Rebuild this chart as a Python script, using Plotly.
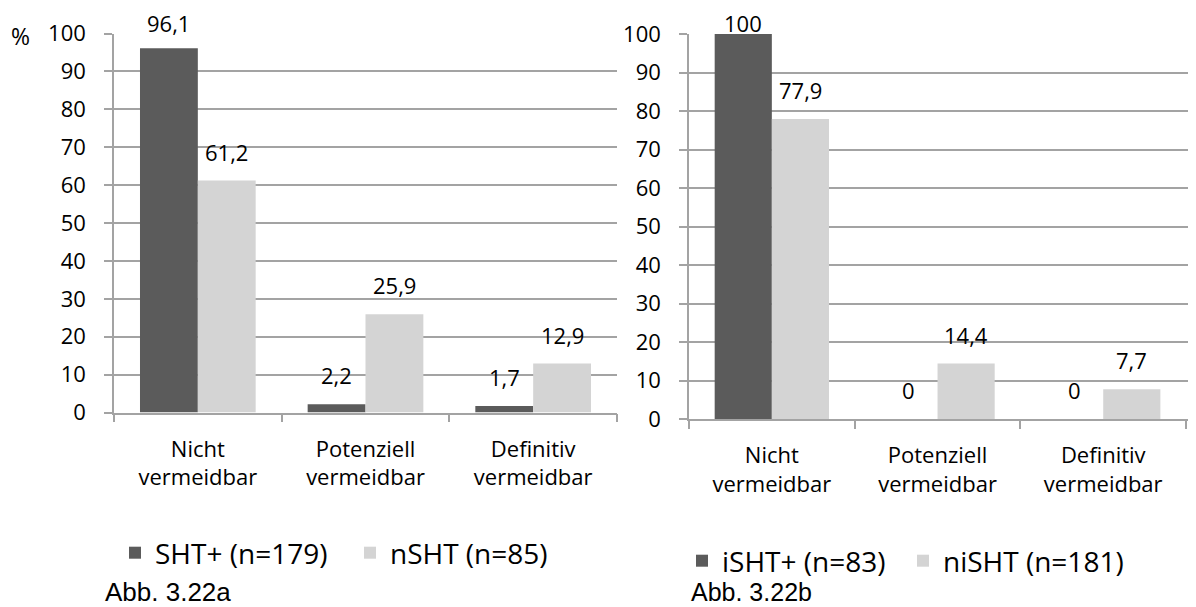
import plotly.graph_objects as go

categories = ["Nicht<br>vermeidbar", "Potenziell<br>vermeidbar", "Definitiv<br>vermeidbar"]

left_names = ["SHT+ (n=179)", "nSHT (n=85)"]
left_a = [96.1, 2.2, 1.7]
left_b = [61.2, 25.9, 12.9]

right_names = ["iSHT+ (n=83)", "niSHT (n=181)"]
right_a = [100, 0, 0]
right_b = [77.9, 14.4, 7.7]

y_ticks = [0, 10, 20, 30, 40, 50, 60, 70, 80, 90, 100]

DARK = "#5b5b5b"
LIGHT = "#d4d4d4"
GRID = "#a3a3a3"
FONT = "Open Sans"
OFF = 8  # page body margin offset
W, H = 1196 - OFF, 607 - OFF

# pixel layout (reference coordinates)
L_ZERO, L_TOP = 412.5, 33.5
R_ZERO, R_TOP = 419.0, 34.0


def px(X):
    return (X - OFF) / W


def py(Y):
    return 1 - (Y - OFF) / H


def fmt(v):
    return f"{v:g}".replace(".", ",")


def label_shift(v, zero, top):
    # keep labels inside the chart area like the original (labels near the top are pushed down)
    bar_top = zero - v * (zero - top) / 100.0
    text_bottom = bar_top - 19
    return 13 - max(0.0, 33 - text_bottom)


fig = go.Figure()

fig.add_trace(go.Bar(x=categories, y=left_a, name=left_names[0], marker=dict(color=DARK, line=dict(width=0)),
                     xaxis="x", yaxis="y", legend="legend"))
fig.add_trace(go.Bar(x=categories, y=left_b, name=left_names[1], marker=dict(color=LIGHT, line=dict(width=0)),
                     xaxis="x", yaxis="y", legend="legend"))
fig.add_trace(go.Bar(x=categories, y=right_a, name=right_names[0], marker=dict(color=DARK, line=dict(width=0)),
                     xaxis="x2", yaxis="y2", legend="legend2"))
fig.add_trace(go.Bar(x=categories, y=right_b, name=right_names[1], marker=dict(color=LIGHT, line=dict(width=0)),
                     xaxis="x2", yaxis="y2", legend="legend2"))

annotations = []
for vals, xr, yr, shift, zero, top in [(left_a, "x", "y", -29, L_ZERO, L_TOP), (left_b, "x", "y", 29, L_ZERO, L_TOP),
                                       (right_a, "x2", "y2", -28.6, R_ZERO, R_TOP),
                                       (right_b, "x2", "y2", 28.6, R_ZERO, R_TOP)]:
    for c, v in zip(categories, vals):
        annotations.append(dict(x=c, y=v, xref=xr, yref=yr, text=fmt(v), showarrow=False, borderpad=0,
                                xshift=shift, yshift=label_shift(v, zero, top), yanchor="bottom",
                                font=dict(family=FONT, size=22, color="#000")))

annotations.append(dict(x=px(9), y=py(36), xref="paper", yref="paper", text="%", showarrow=False,
                        xanchor="left", yanchor="middle", font=dict(family=FONT, size=23, color="#000")))
annotations.append(dict(x=px(103), y=py(592), xref="paper", yref="paper", text="Abb. 3.22a", showarrow=False,
                        xanchor="left", yanchor="middle", font=dict(family="Liberation Sans", size=26, color="#000")))
annotations.append(dict(x=px(689), y=py(592), xref="paper", yref="paper", text="Abb. 3.22b", showarrow=False,
                        xanchor="left", yanchor="middle", font=dict(family="Liberation Sans", size=25, color="#000")))

yaxis_common = dict(range=[0, 100], tickvals=y_ticks, showgrid=True, gridcolor=GRID, gridwidth=1.5,
                    showline=True, linecolor=GRID, linewidth=1.5, ticks="outside", ticklen=8,
                    tickcolor=GRID, tickwidth=1.5, zeroline=False, ticklabelstandoff=14, automargin=False,
                    tickfont=dict(family=FONT, size=22, color="#000"), fixedrange=True)
xaxis_common = dict(showline=True, linecolor=GRID, linewidth=1.5, ticks="outside", ticklen=8,
                    tickcolor=GRID, tickwidth=1.5, tickson="boundaries", showgrid=False, automargin=False,
                    ticklabelstandoff=16, tickfont=dict(family=FONT, size=22, color="#000"), fixedrange=True)

fig.update_layout(
    width=W, height=H,
    margin=dict(l=0, r=0, t=0, b=0, autoexpand=False),
    paper_bgcolor="white", plot_bgcolor="white",
    barmode="group", bargap=0.31, bargroupgap=0,
    xaxis=dict(domain=[px(114), px(617)], range=[-0.5, 2.5], anchor="y", **xaxis_common),
    yaxis=dict(domain=[py(L_ZERO), py(L_TOP)], anchor="x", **yaxis_common),
    xaxis2=dict(domain=[px(689), 1.0], range=[-0.5, 2.56], anchor="y2", **xaxis_common),
    yaxis2=dict(domain=[py(R_ZERO), py(R_TOP)], anchor="x2", **yaxis_common),
    legend=dict(orientation="h", x=px(115), y=py(553), xanchor="left", yanchor="middle",
                entrywidth=190, font=dict(family=FONT, size=28, color="#000"), bgcolor="rgba(0,0,0,0)"),
    legend2=dict(orientation="h", x=px(682), y=py(561), xanchor="left", yanchor="middle",
                 entrywidth=176, font=dict(family=FONT, size=28, color="#000"), bgcolor="rgba(0,0,0,0)"),
    annotations=annotations,
    font=dict(family=FONT, color="#000"),
)

fig.write_html("out.html")
